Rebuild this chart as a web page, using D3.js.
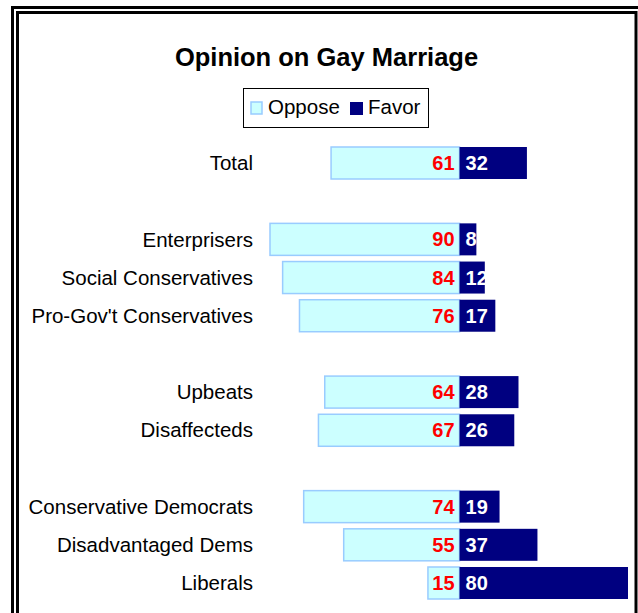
<!DOCTYPE html>
<html>
<head>
<meta charset="utf-8">
<script src="https://cdn.jsdelivr.net/npm/d3@7"></script>
<style>
  html, body { margin: 0; padding: 0; background: #fff; }
  svg { display: block; font-family: "Liberation Sans", Arial, sans-serif; }
</style>
</head>
<body>
<svg id="chart" width="638" height="613"></svg>
<script>
const title = "Opinion on Gay Marriage";
const seriesNames = ["Oppose", "Favor"];
const categories = ["Total", "Enterprisers", "Social Conservatives", "Pro-Gov't Conservatives", "Upbeats", "Disaffecteds", "Conservative Democrats", "Disadvantaged Dems", "Liberals"];
const oppose = [61, 90, 84, 76, 64, 67, 74, 55, 15];
const favor = [32, 8, 12, 17, 28, 26, 19, 37, 80];
const groups = [0, 1, 1, 1, 2, 2, 3, 3, 3];

const colors = { oppose: "#CCFFFF", opposeStroke: "#99CCFF", favor: "#000080" };

const svg = d3.select("#chart");
svg.append("rect").attr("width", 638).attr("height", 613).attr("fill", "#fff");

// double frame
svg.append("rect").attr("x", 12.5).attr("y", 7.5).attr("width", 640).attr("height", 640)
  .attr("fill", "none").attr("stroke", "#000").attr("stroke-width", 3);
svg.append("rect").attr("x", 17.5).attr("y", 12.5).attr("width", 618.5).attr("height", 640)
  .attr("fill", "none").attr("stroke", "#000").attr("stroke-width", 3);

// slots: insert a gap between groups
const slots = [];
categories.forEach((c, i) => {
  if (i > 0 && groups[i] !== groups[i - 1]) slots.push("__gap" + i);
  slots.push(c);
});

const y = d3.scalePoint().domain(slots).range([163, 583]);
const x = d3.scaleLinear().domain([-90, 80]).range([270, 628]);
const barH = 32;

const data = categories.map((c, i) => ({ c, o: oppose[i], f: favor[i] }));

// title
svg.append("text").attr("x", 326.5).attr("y", 66).attr("text-anchor", "middle")
  .attr("font-size", 25.5).attr("font-weight", "bold").attr("fill", "#000").text(title);

// legend
const lg = svg.append("g");
lg.append("rect").attr("x", 243.5).attr("y", 88.5).attr("width", 185).attr("height", 39)
  .attr("fill", "#fff").attr("stroke", "#000").attr("stroke-width", 1);
lg.append("rect").attr("x", 251).attr("y", 102).attr("width", 11).attr("height", 12)
  .attr("fill", colors.oppose).attr("stroke", colors.opposeStroke).attr("stroke-width", 1.5);
lg.append("text").attr("x", 268).attr("y", 114).attr("font-size", 20.5).text(seriesNames[0]);
lg.append("rect").attr("x", 350).attr("y", 102).attr("width", 13).attr("height", 13)
  .attr("fill", colors.favor);
lg.append("text").attr("x", 368).attr("y", 114).attr("font-size", 20.5).text(seriesNames[1]);

// bars
const g = svg.append("g");
g.selectAll("rect.opp").data(data).join("rect").attr("class", "opp")
  .attr("x", d => x(-d.o)).attr("y", d => y(d.c) - barH / 2)
  .attr("width", d => x(0) - x(-d.o)).attr("height", barH)
  .attr("fill", colors.oppose).attr("stroke", colors.opposeStroke).attr("stroke-width", 1.5);

g.selectAll("rect.fav").data(data).join("rect").attr("class", "fav")
  .attr("x", x(0)).attr("y", d => y(d.c) - barH / 2)
  .attr("width", d => x(d.f) - x(0)).attr("height", barH)
  .attr("fill", colors.favor);

// category labels
g.selectAll("text.cat").data(data).join("text").attr("class", "cat")
  .attr("x", 253).attr("y", d => y(d.c)).attr("dy", "0.35em")
  .attr("text-anchor", "end").attr("font-size", 20.5).attr("fill", "#000").text(d => d.c);

// value labels
g.selectAll("text.ov").data(data).join("text").attr("class", "ov")
  .attr("x", x(0) - 5).attr("y", d => y(d.c)).attr("dy", "0.35em")
  .attr("text-anchor", "end").attr("font-size", 20).attr("font-weight", "bold")
  .attr("fill", "#FF0000").text(d => d.o);

g.selectAll("text.fv").data(data).join("text").attr("class", "fv")
  .attr("x", x(0) + 6).attr("y", d => y(d.c)).attr("dy", "0.35em")
  .attr("text-anchor", "start").attr("font-size", 20).attr("font-weight", "bold")
  .attr("fill", "#fff").text(d => d.f);
</script>
</body>
</html>
